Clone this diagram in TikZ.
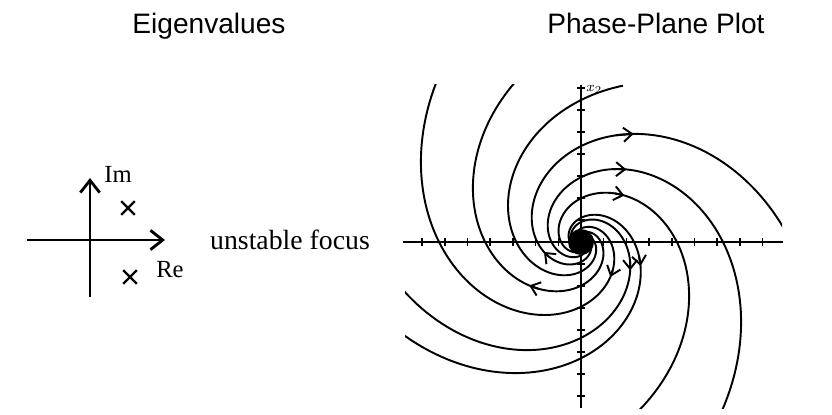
\documentclass[tikz,border=0pt]{standalone}
\usepackage{fontspec}
\setmainfont{Liberation Serif}
\setsansfont{Liberation Sans}
\usetikzlibrary{arrows.meta,shapes.misc}

\begin{document}
\begin{tikzpicture}[
  x=0.02cm, y=0.02cm,
  >={Straight Barb[length=7pt,width=11pt]},
  every node/.style={text=black,inner sep=0pt},
  title/.style={font=\sffamily\fontsize{16}{18}\selectfont,anchor=base},
  axlabel/.style={font=\fontsize{14}{16}\selectfont},
  eigaxis/.style={line width=1.6pt,->},
  pole/.style={draw,cross out,line width=1.3pt,minimum size=6.5pt},
  planeaxis/.style={line width=0.9pt},
  traj/.style={line width=1.1pt},
  flowtip/.style={line width=1.1pt,-{Straight Barb[length=5pt,width=8pt]}}
]
  \useasboundingbox (0,0) rectangle (832,414);

  \node[title] (ttl) at (209,381) {Eigenvalues};
  \node[title,anchor=base west] (ttr) at (547,381) {Phase-Plane Plot};

  % eigenvalue plane
  \coordinate (re0) at (27,174);
  \coordinate (re1) at (165,174);
  \coordinate (im0) at (90,117);
  \coordinate (im1) at (90,236);
  \draw[eigaxis] (re0) -- (re1);
  \draw[eigaxis] (im0) -- (im1);
  \node[axlabel] (im) at (118,240) {Im};
  \node[axlabel] (re) at (170,144) {Re};
  \node[pole] (p1) at (128,206) {};
  \node[pole] (p2) at (130,137) {};
  \node[font=\fontsize{15.8}{18}\selectfont] (kind) at (290,174) {unstable focus};

  % phase plane
  \begin{scope}[shift={(581,172)}]
    \draw[planeaxis] (-178,0) -- (202,0);
    \draw[planeaxis] (0,-166) -- (0,157);
    \foreach \k in {-7,...,8}
      \draw[planeaxis] (22.7*\k,-4) -- (22.7*\k,4);
    \foreach \k in {-7,...,7}
      \draw[planeaxis] (-4,22*\k) -- (4,22*\k);
    \node[font=\bfseries\fontsize{8}{9}\selectfont,anchor=west] (x2) at (5,153) {$x_2$};

    % eight trajectories, each one turned by 45 degrees
    \begin{scope}
      \clip (-176,-166) rectangle (201,158);
      \foreach \j/\s/\d in {0/130/0, 1/150/0, 2/170/0, 3/140/0,
                            4/124/0, 5/147/0, 6/118/-0.2, 7/140/0}
        \draw[traj,rotate=-45*\j-5] plot[domain=\s:840,samples=400]
          (\x:{exp(6.57+\d-0.5*rad(\x))});
    \end{scope}
    \fill (0,0) circle (13);

    % direction of flow
    \foreach \j/\t/\d in {3/64/0, 4/58/0, 5/47/0, 6/-22/-0.2, 7/-30/0,
                          0/310/0, 1/220/0, 3/195/0}
      \draw[flowtip,rotate=-45*\j-5]
        ({\t+45*\j+13}:{exp(6.57+\d-0.5*rad(\t+45*\j+13))}) --
        ({\t+45*\j+5}:{exp(6.57+\d-0.5*rad(\t+45*\j+5))});
  \end{scope}
\end{tikzpicture}
\end{document}
